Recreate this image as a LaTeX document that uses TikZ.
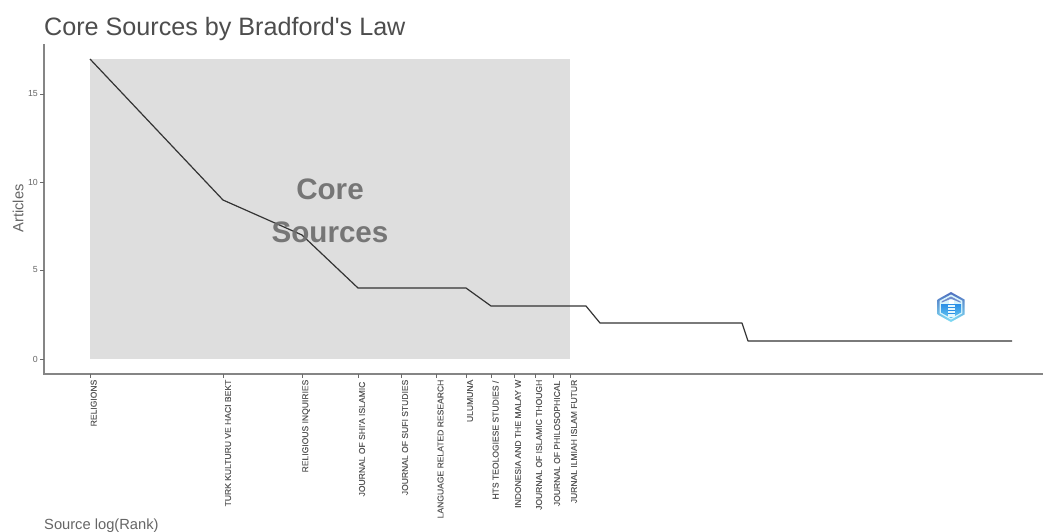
\documentclass[tikz,border=0pt]{standalone}
\usepackage{fontspec}
\setmainfont{Liberation Sans}
\newfontfamily\plainf{Liberation Sans}
\newfontfamily\srcf[FakeBold=0.25]{Liberation Sans}
\definecolor{axisgrey}{HTML}{858585}
\definecolor{titlegrey}{HTML}{4D4D4D}
\definecolor{axistext}{HTML}{666666}
\definecolor{corefill}{HTML}{DEDEDE}
\definecolor{coretext}{HTML}{6E6E6E}
\definecolor{curveblack}{HTML}{333333}
\definecolor{labelgrey}{HTML}{5A5A5A}
\definecolor{logoblue}{HTML}{2A8FE6}
\definecolor{logocyan}{HTML}{7FDDF5}
\definecolor{logodark}{HTML}{4F6FBF}
\tikzset{
  x=1pt,y=-1pt,
  axisline/.style={draw=axisgrey,line width=2pt},
  tickmark/.style={draw=axisgrey!80!black,line width=0.8pt},
  curve/.style={draw=curveblack,line width=1.2pt,line join=round},
  srclabel/.style={rotate=90,anchor=east,inner sep=0pt,text=labelgrey,font=\srcf\fontsize{8.55}{10}\selectfont},
  ylabelnum/.style={anchor=east,inner sep=0pt,text=axistext,font=\fontsize{8.8}{10}\selectfont},
  axistitle/.style={inner sep=0pt,text=axistext,font=\fontsize{14.7}{16}\selectfont},
  coretitle/.style={inner sep=0pt,text=coretext,text opacity=0.92,font=\fontsize{29.6}{32}\bfseries\selectfont},
}
\begin{document}
\begin{tikzpicture}
\useasboundingbox (0,0) rectangle (1043,531);
\fill[white] (0,0) rectangle (1043,531);
\fill[corefill] (90,59) rectangle (570,359);
% axes
\draw[axisline] (44,44) -- (44,374.4) -- (1043,374.4);
\foreach \yy/\lab in {94/15,182/10,270/5,359/0}{
  \draw[tickmark] (40,\yy) -- (44,\yy);
  \node[ylabelnum] at (38,\yy) {\lab};
}
\foreach \xx in {90,223.5,302,358,401,436.5,466,491.5,514,535,553,570}{
  \draw[tickmark] (\xx,374.4) -- (\xx,378);
}
% curve
\coordinate (p1) at (90,59);
\coordinate (p2) at (223,200);
\coordinate (p3) at (302,235);
\coordinate (p4) at (358,288);
\coordinate (p5) at (466,288);
\coordinate (p6) at (491,306);
\coordinate (p7) at (586,306);
\coordinate (p8) at (600,323);
\coordinate (p9) at (742,323);
\coordinate (p10) at (748,341);
\coordinate (p11) at (1012,341);
\draw[curve] (p1) -- (p2) -- (p3) -- (p4) -- (p5) -- (p6) -- (p7) -- (p8) -- (p9) -- (p10) -- (p11);
% texts
\node[anchor=base west,inner sep=0pt,text=titlegrey,font=\plainf\fontsize{25.15}{28}\selectfont] (title) at (44,35) {Core Sources by Bradford's Law};
\node[axistitle,rotate=90] (ytitle) at (18,208.5) {Articles};
\node[axistitle,anchor=base west] (xtitle) at (44,529) {Source log(Rank)};
\node[coretitle] (core1) at (330,189) {Core};
\node[coretitle] (core2) at (330,232) {Sources};
\node[srclabel] (s1) at (93.7,379.5) {RELIGIONS};
\node[srclabel] (s2) at (228,379.5) {TURK KULTURU VE HACI BEKT};
\node[srclabel] (s3) at (306,379.5) {RELIGIOUS INQUIRIES};
\node[srclabel] (s4) at (362,381.5) {JOURNAL OF SHI'A ISLAMIC};
\node[srclabel] (s5) at (405,379.5) {JOURNAL OF SUFI STUDIES};
\node[srclabel] (s6) at (440.5,379.5) {LANGUAGE RELATED RESEARCH};
\node[srclabel] (s7) at (470,379.5) {ULUMUNA};
\node[srclabel] (s8) at (495.5,380.5) {HTS TEOLOGIESE STUDIES /};
\node[srclabel] (s9) at (518,379.5) {INDONESIA AND THE MALAY W};
\node[srclabel] (s10) at (539,379.5) {JOURNAL OF ISLAMIC THOUGH};
\node[srclabel] (s11) at (557,380.5) {JOURNAL OF PHILOSOPHICAL};
\node[srclabel] (s12) at (574,379.5) {JURNAL ILMIAH ISLAM FUTUR};
% logo
\shade[top color=logodark,bottom color=logocyan] (951,292) -- (964.5,299.5) -- (964.5,314.5) -- (951,322) -- (937.5,314.5) -- (937.5,299.5) -- cycle;
\fill[white!70!logocyan] (951,294.5) -- (962.3,300.7) -- (962.3,313.3) -- (951,319.6) -- (939.7,313.3) -- (939.7,300.7) -- cycle;
\shade[top color=logoblue,bottom color=logocyan!70!logoblue] (941,304) -- (961,304) -- (961,312.5) -- (951,318.2) -- (941,312.5) -- cycle;
\fill[logodark!80!white] (941.5,301.5) -- (951,296.5) -- (960.5,301.5) -- (960.5,302.7) -- (951,298.7) -- (941.5,302.7) -- cycle;
\fill[white] (948.5,300) rectangle (953.5,304);
\fill[white!80!logocyan] (947.5,304.5) rectangle (954.5,316.5);
\draw[logoblue,line width=0.7pt] (947.5,307.5) -- (954.5,307.5) (947.5,310.5) -- (954.5,310.5) (947.5,313.5) -- (954.5,313.5);
\end{tikzpicture}
\end{document}
